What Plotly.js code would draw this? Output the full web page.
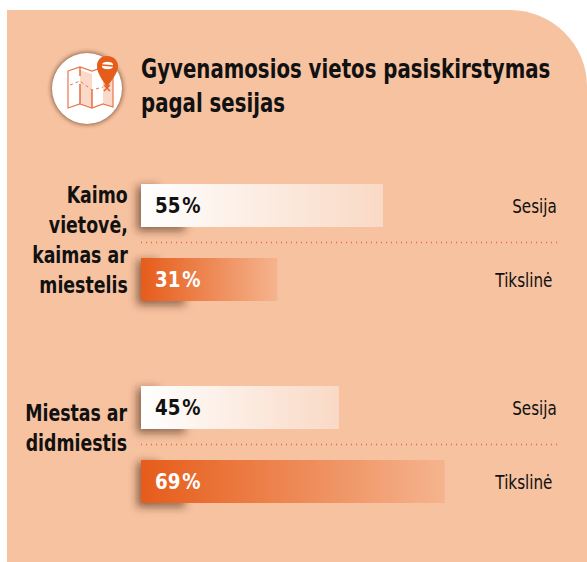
<!DOCTYPE html>
<html>
<head>
<meta charset="utf-8">
<script src="https://cdn.plot.ly/plotly-3.0.1.min.js"></script>
<style>html,body{margin:0;padding:0;background:#fff;overflow:hidden}</style>
</head>
<body>
<div id="chart" style="width:587px;height:562px"></div>
<script>
const titleText = 'Gyvenamosios vietos pasiskirstymas<br>pagal sesijas';
const seriesNames = ['Sesija', 'Tikslinė'];
const group1Label = 'Kaimo<br>vietovė,<br>kaimas ar<br>miestelis';
const group2Label = 'Miestas ar<br>didmiestis';
const group1Values = [55, 31];
const group2Values = [45, 69];

const W = 587, H = 562;
const FONT = '"DejaVu Sans", sans-serif';
const BG = '#f7c2a0', ORANGE = '#e65c1a';
const px = x => x / W, py = y => 1 - y / H;
const pathOf = s => s.replace(/(-?[\d.]+) (-?[\d.]+)/g, (m, a, b) => px(+a) + ' ' + py(+b));
const scale = 4.4, x0 = 141;
const xRange = [-x0 / scale, (W - x0) / scale];
const dom1 = [py(316.5), py(168.5)], dom2 = [py(518.5), py(370.5)];

const traces = [
  {type: 'bar', orientation: 'h', y: seriesNames, x: group1Values, xaxis: 'x', yaxis: 'y',
   marker: {color: ['#fbe6d9', '#ee8a55'], line: {width: 0}}, hoverinfo: 'skip', showlegend: false},
  {type: 'bar', orientation: 'h', y: seriesNames, x: group2Values, xaxis: 'x', yaxis: 'y2',
   marker: {color: ['#fbe6d9', '#ee8a55'], line: {width: 0}}, hoverinfo: 'skip', showlegend: false}
];

const shapes = [];
shapes.push({type: 'path', xref: 'paper', yref: 'paper', layer: 'below', fillcolor: BG, line: {width: 0},
  path: pathOf('M 7 562 L 7 10 L 510 10 C 552 10 587 44 587 86 L 587 562 Z')});
const firstShadow = shapes.length;
[[184, 227], [258, 301], [386, 429], [460, 503]].forEach(([a, b]) => {
  shapes.push({type: 'path', xref: 'paper', yref: 'paper', layer: 'below', fillcolor: 'rgba(70,40,20,0.6)', line: {width: 0},
    path: pathOf(`M 137 ${a + 2} L 158 ${a + 2} L 158 ${b - 6} L 185 ${b - 6} L 185 ${b + 4} L 137 ${b + 4} Z`)});
});
const lastShadow = shapes.length;
shapes.push({type: 'circle', xref: 'paper', yref: 'paper', layer: 'below', fillcolor: 'rgba(70,40,20,0.6)', line: {width: 0},
  x0: px(51), x1: px(123), y0: py(125), y1: py(52)});
const circleShadow = shapes.length - 1;
shapes.push({type: 'circle', xref: 'paper', yref: 'paper', layer: 'below', fillcolor: '#ffffff', line: {width: 0},
  x0: px(52), x1: px(122), y0: py(124), y1: py(53)});
const mapLine = {color: '#e8754a', width: 1.2};
shapes.push({type: 'path', xref: 'paper', yref: 'paper', layer: 'below', fillcolor: '#fbd9c8', line: {width: 0},
  path: pathOf('M 80 70 L 92 74 L 92 107 L 80 103 Z')});
shapes.push({type: 'path', xref: 'paper', yref: 'paper', layer: 'below', fillcolor: '#fbd9c8', line: {width: 0},
  path: pathOf('M 103 70 L 113 74 L 113 107 L 103 103 Z')});
shapes.push({type: 'path', xref: 'paper', yref: 'paper', layer: 'below', fillcolor: 'rgba(0,0,0,0)', line: mapLine,
  path: pathOf('M 68 71 L 80 67 L 92 71 L 104 67 L 113 70 L 113 107 L 103 104 L 92 108 L 80 104 L 68 108 Z')});
shapes.push({type: 'path', xref: 'paper', yref: 'paper', layer: 'below', fillcolor: 'rgba(0,0,0,0)', line: {color: '#e8754a', width: 1.6},
  path: pathOf('M 80 67 L 80 76 M 80 84 L 80 104 M 92 90 L 92 108')});
shapes.push({type: 'path', xref: 'paper', yref: 'paper', layer: 'below', fillcolor: 'rgba(0,0,0,0)', line: {color: '#e8754a', width: 1, dash: 'dot'},
  path: pathOf('M 70 85 L 80 81 L 92 90 L 103 87')});
shapes.push({type: 'path', xref: 'paper', yref: 'paper', layer: 'below', fillcolor: ORANGE, line: {width: 0},
  path: pathOf('M 107 88 C 103 80 97 74 97 66 C 97 60 101 56 107 56 C 113 56 118 60 118 66 C 118 74 111 80 107 88 Z')});
shapes.push({type: 'path', xref: 'paper', yref: 'paper', layer: 'below', fillcolor: '#ffffff', line: {width: 0},
  path: pathOf('M 102 64 C 104 61 111 61 113 64 L 113 67 C 111 70 104 70 102 67 Z')});
shapes.push({type: 'path', xref: 'paper', yref: 'paper', layer: 'below', fillcolor: 'rgba(0,0,0,0)', line: {color: ORANGE, width: 1.4},
  path: pathOf('M 102 65 L 113 66 M 104 85 L 110 91 M 110 85 L 104 91')});
const dotted = {color: '#e8643c', width: 1.4, dash: '1px,4px'};
shapes.push({type: 'line', xref: 'paper', yref: 'y', x0: px(141), x1: px(557), y0: 0.5, y1: 0.5, line: dotted, layer: 'below'});
shapes.push({type: 'line', xref: 'paper', yref: 'y2', x0: px(141), x1: px(557), y0: 0.5, y1: 0.5, line: dotted, layer: 'below'});

const annotations = [];
const squeeze = [];
const ann = (text, x, y, anchor, size, color, sx) => {
  annotations.push({
    text, x: px(x), y: py(y), xref: 'paper', yref: 'paper', xanchor: anchor, yanchor: 'middle',
    showarrow: false, align: anchor === 'right' ? 'right' : 'left',
    font: {family: FONT, size, color}
  });
  squeeze.push([sx, anchor]);
};
ann('<b>' + titleText + '</b>', 139, 85.5, 'left', 26, '#111', 0.76);
ann('<b>' + group1Label.split('<br>').join('</b><br><b>') + '</b>', 130, 240, 'right', 23, '#111', 0.755);
ann('<b>' + group2Label.split('<br>').join('</b><br><b>') + '</b>', 130, 428, 'right', 23, '#111', 0.755);

[[group1Values, 'y'], [group2Values, 'y2']].forEach(([vals, ax]) => {
  vals.forEach((v, i) => {
    annotations.push({text: '<b>' + v + '\u200A%</b>', x: 0, y: seriesNames[i], xref: 'x', yref: ax, xanchor: 'left', yanchor: 'middle',
      xshift: 12, showarrow: false, font: {family: FONT, size: 22, color: i === 0 ? '#111' : '#fff'}});
    squeeze.push([0.83, 'left']);
    annotations.push({text: seriesNames[i], x: px(i === 0 ? 559 : 555), y: seriesNames[i], xref: 'paper', yref: ax,
      xanchor: 'right', yanchor: 'middle', showarrow: false, font: {family: FONT, size: 19, color: '#111'}});
    squeeze.push([0.8, 'right']);
  });
});

const layout = {
  width: W, height: H, margin: {l: 0, r: 0, t: 0, b: 0},
  paper_bgcolor: '#ffffff', plot_bgcolor: 'rgba(0,0,0,0)', showlegend: false,
  barmode: 'overlay', bargap: 0.419,
  xaxis: {domain: [0, 1], range: xRange, visible: false, fixedrange: true},
  yaxis: {domain: dom1, type: 'category', categoryorder: 'array', categoryarray: seriesNames, range: [1.5, -0.5], visible: false, fixedrange: true},
  yaxis2: {domain: dom2, type: 'category', categoryorder: 'array', categoryarray: seriesNames, range: [1.5, -0.5], visible: false, fixedrange: true, anchor: 'x'},
  shapes, annotations
};

Plotly.newPlot('chart', traces, layout, {displayModeBar: false, staticPlot: true}).then(gd => {
  const svg = gd.querySelector('svg.main-svg');
  const NS = 'http://www.w3.org/2000/svg';
  const defs = svg.querySelector('defs') || svg.insertBefore(document.createElementNS(NS, 'defs'), svg.firstChild);
  const grad = (id, a, b) => {
    const g = document.createElementNS(NS, 'linearGradient');
    g.id = id; g.setAttribute('x1', '0'); g.setAttribute('x2', '1'); g.setAttribute('y1', '0'); g.setAttribute('y2', '0');
    [[0, a], [1, b]].forEach(([o, c]) => {
      const s = document.createElementNS(NS, 'stop');
      s.setAttribute('offset', o); s.setAttribute('stop-color', c); g.appendChild(s);
    });
    defs.appendChild(g);
  };
  grad('gWhite', '#ffffff', '#f9d9c5');
  grad('gOrange', '#e65c1a', '#f5b48e');
  const blur = (id, sd) => {
    const f = document.createElementNS(NS, 'filter');
    f.id = id; f.setAttribute('x', '-50%'); f.setAttribute('y', '-50%'); f.setAttribute('width', '200%'); f.setAttribute('height', '200%');
    const b = document.createElementNS(NS, 'feGaussianBlur'); b.setAttribute('stdDeviation', sd); f.appendChild(b);
    defs.appendChild(f);
  };
  blur('bBar', 4); blur('bCircle', 2);
  gd.querySelectorAll('.bars .point path').forEach((p, i) => {
    p.style.fill = 'url(#' + (i % 2 === 0 ? 'gWhite' : 'gOrange') + ')';
  });
  const shapeEl = i => gd.querySelector('.shapelayer path[data-index="' + i + '"]');
  for (let i = firstShadow; i < lastShadow; i++) { const e = shapeEl(i); if (e) e.style.filter = 'url(#bBar)'; }
  const c = shapeEl(circleShadow); if (c) c.style.filter = 'url(#bCircle)';
  gd.querySelectorAll('.annotation').forEach(a => {
    const i = +a.getAttribute('data-index');
    const t = a.querySelector('text');
    if (!t || !squeeze[i]) return;
    t.style.transformBox = 'fill-box';
    t.style.transformOrigin = squeeze[i][1] + ' center';
    t.style.transform = 'scaleX(' + squeeze[i][0] + ')';
  });
});
</script>
</body>
</html>
